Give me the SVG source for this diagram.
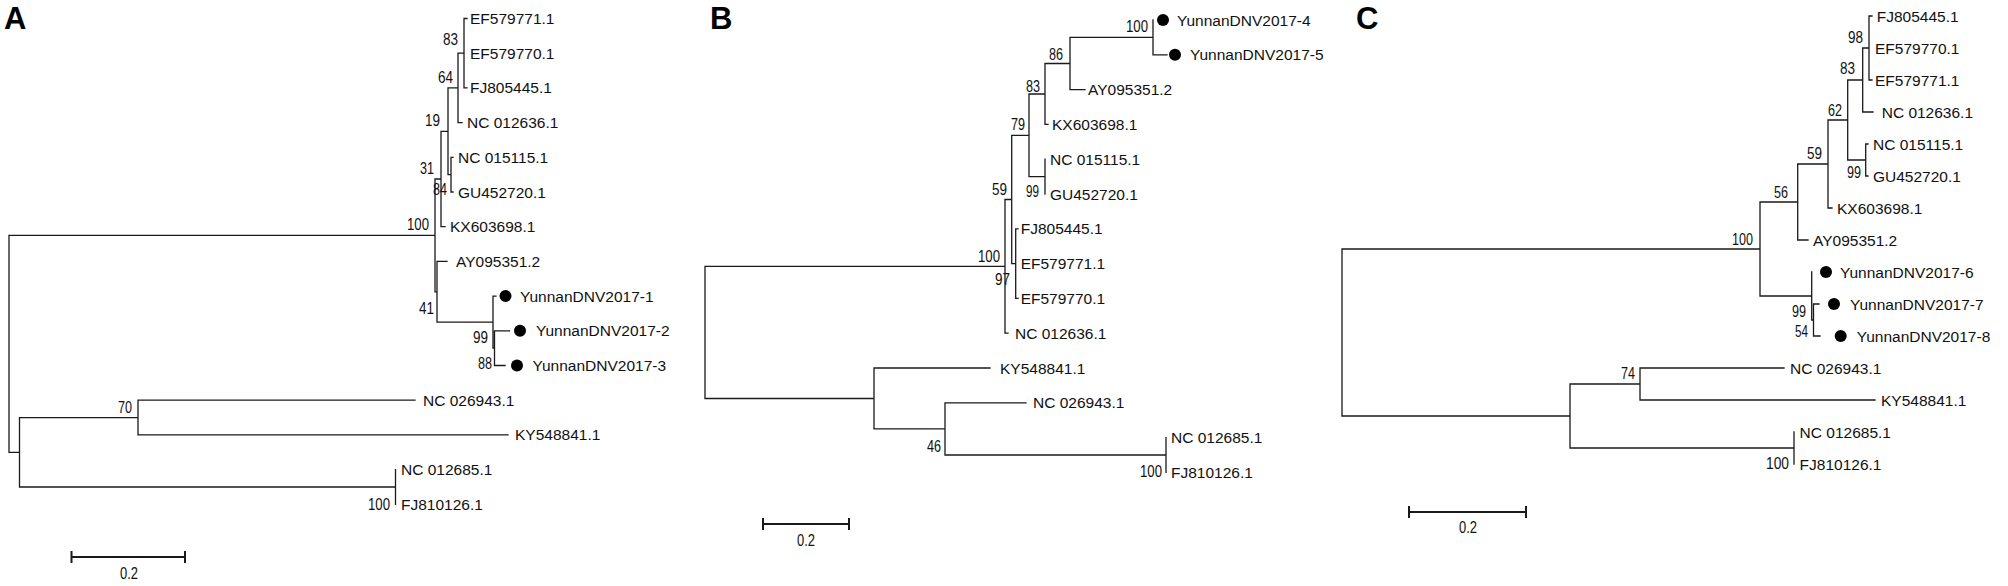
<svg xmlns="http://www.w3.org/2000/svg" width="2008" height="586" viewBox="0 0 2008 586">
<style>
.e{fill:none;stroke:#1a1a1a;stroke-width:1.3;stroke-linecap:square}
.sb{fill:none;stroke:#1a1a1a;stroke-width:2}
.t{font-family:"Liberation Sans",Arial,sans-serif;font-size:15.5px;fill:#111}
.b{font-family:"Liberation Sans",Arial,sans-serif;font-size:16px;fill:#111;text-anchor:end}
.s{font-family:"Liberation Sans",Arial,sans-serif;font-size:16px;fill:#111;text-anchor:middle}
.p{font-family:"Liberation Sans",Arial,sans-serif;font-size:31px;font-weight:bold;fill:#000}
.d{fill:#000}
</style>
<rect width="2008" height="586" fill="#fff"/>

<!-- ================= PANEL A ================= -->
<g id="panelA">
<text class="p" x="4" y="29">A</text>
<g id="A-connectors">
<path class="e" d="M9,235.4V452.3M9,235.4H435M9,452.3H19.5
M19.5,417.6V487M19.5,417.6H138M138,400.2V434.9M138,400.2H415M138,434.9H508
M19.5,487H395.5M395.5,469.6V504.3
M435,179V291.8M435,179H441M441,131.3V226.7M441,226.7H445M441,131.3H448
M448,87.9V174.6M448,87.9H458M448,174.6H451M451,157.3V192M451,157.3H453M451,192H453
M458,53.2V122.6M458,53.2H464M458,122.6H462M464,18.5V87.9M464,18.5H467M464,87.9H467
M435,291.8H437M437,261.4V322.1M437,261.4H447M437,322.1H493
M493,296.1V348.2M493,296.1H496M493,348.2H494.5M494.5,330.8V365.5M494.5,330.8H509.5M494.5,365.5H505"/>
</g>
<g id="A-EF579771"><text class="t" x="470" y="24">EF579771.1</text></g>
<g id="A-EF579770"><text class="t" x="470" y="58.7">EF579770.1</text></g>
<g id="A-FJ805445"><text class="t" x="470" y="93.4">FJ805445.1</text></g>
<g id="A-NC012636"><text class="t" x="467" y="128.1">NC 012636.1</text></g>
<g id="A-NC015115"><text class="t" x="458" y="162.8">NC 015115.1</text></g>
<g id="A-GU452720"><text class="t" x="458" y="197.5">GU452720.1</text></g>
<g id="A-KX603698"><text class="t" x="450" y="232.2">KX603698.1</text></g>
<g id="A-AY095351"><text class="t" x="456" y="266.9">AY095351.2</text></g>
<g id="A-Y1"><circle class="d" cx="505.5" cy="296.1" r="6"/><text class="t" x="520" y="301.6">YunnanDNV2017-1</text></g>
<g id="A-Y2"><circle class="d" cx="520" cy="330.8" r="6"/><text class="t" x="536" y="336.3">YunnanDNV2017-2</text></g>
<g id="A-Y3"><circle class="d" cx="517" cy="365.5" r="6"/><text class="t" x="532.5" y="371">YunnanDNV2017-3</text></g>
<g id="A-NC026943"><text class="t" x="423" y="405.7">NC 026943.1</text></g>
<g id="A-KY548841"><text class="t" x="515" y="440.4">KY548841.1</text></g>
<g id="A-NC012685"><text class="t" x="401" y="475.1">NC 012685.1</text></g>
<g id="A-FJ810126"><text class="t" x="401" y="509.8">FJ810126.1</text></g>
<g id="A-bootstrap">
<text class="b" x="458" y="45" textLength="15" lengthAdjust="spacingAndGlyphs">83</text>
<text class="b" x="453" y="83" textLength="15" lengthAdjust="spacingAndGlyphs">64</text>
<text class="b" x="440" y="126" textLength="15" lengthAdjust="spacingAndGlyphs">19</text>
<text class="b" x="434" y="174" textLength="14" lengthAdjust="spacingAndGlyphs">31</text>
<text class="b" x="447" y="195" textLength="14" lengthAdjust="spacingAndGlyphs">84</text>
<text class="b" x="429" y="230" textLength="22" lengthAdjust="spacingAndGlyphs">100</text>
<text class="b" x="434" y="314" textLength="15" lengthAdjust="spacingAndGlyphs">41</text>
<text class="b" x="488" y="343" textLength="15" lengthAdjust="spacingAndGlyphs">99</text>
<text class="b" x="492" y="369" textLength="14" lengthAdjust="spacingAndGlyphs">88</text>
<text class="b" x="132" y="413" textLength="14" lengthAdjust="spacingAndGlyphs">70</text>
<text class="b" x="390" y="510" textLength="22" lengthAdjust="spacingAndGlyphs">100</text>
</g>
<g id="A-scale">
<path class="sb" d="M71.5,557H185M71.5,551V563M185,551V563"/>
<text class="s" x="129" y="579" textLength="18" lengthAdjust="spacingAndGlyphs">0.2</text>
</g>
</g>

<!-- ================= PANEL B ================= -->
<g id="panelB">
<text class="p" x="710" y="29">B</text>
<g id="B-connectors">
<path class="e" d="M705,266.3V398.5M705,266.3H1005M705,398.5H874
M874,368V428.9M874,368H990M874,428.9H945M945,402.8V455M945,402.8H1026M945,455H1166M1166,437.6V472.4
M1005,199.5V333.2M1005,333.2H1008M1005,199.5H1011.7M1011.7,135.3V263.6M1011.7,263.6H1015.7
M1015.7,228.8V298.4M1015.7,228.8H1018M1015.7,298.4H1018
M1011.7,135.3H1029M1029,94V176.6M1029,176.6H1045M1045,159.2V194
M1029,94H1045M1045,63.5V124.4M1045,124.4H1048M1045,63.5H1070M1070,37.4V89.6M1070,89.6H1085
M1070,37.4H1153M1153,20V54.8M1153,54.8H1167"/>
</g>
<g id="B-Y4"><circle class="d" cx="1163" cy="20" r="6"/><text class="t" x="1177" y="25.5">YunnanDNV2017-4</text></g>
<g id="B-Y5"><circle class="d" cx="1175" cy="54.8" r="6"/><text class="t" x="1190" y="60.3">YunnanDNV2017-5</text></g>
<g id="B-AY095351"><text class="t" x="1088" y="95.1">AY095351.2</text></g>
<g id="B-KX603698"><text class="t" x="1052" y="129.9">KX603698.1</text></g>
<g id="B-NC015115"><text class="t" x="1050" y="164.7">NC 015115.1</text></g>
<g id="B-GU452720"><text class="t" x="1050" y="199.5">GU452720.1</text></g>
<g id="B-FJ805445"><text class="t" x="1020.7" y="234.3">FJ805445.1</text></g>
<g id="B-EF579771"><text class="t" x="1020.7" y="269.1">EF579771.1</text></g>
<g id="B-EF579770"><text class="t" x="1020.7" y="303.9">EF579770.1</text></g>
<g id="B-NC012636"><text class="t" x="1015" y="338.7">NC 012636.1</text></g>
<g id="B-KY548841"><text class="t" x="1000" y="373.5">KY548841.1</text></g>
<g id="B-NC026943"><text class="t" x="1033" y="408.3">NC 026943.1</text></g>
<g id="B-NC012685"><text class="t" x="1171" y="443.1">NC 012685.1</text></g>
<g id="B-FJ810126"><text class="t" x="1171" y="477.9">FJ810126.1</text></g>
<g id="B-bootstrap">
<text class="b" x="1148" y="32" textLength="22" lengthAdjust="spacingAndGlyphs">100</text>
<text class="b" x="1063" y="60" textLength="14" lengthAdjust="spacingAndGlyphs">86</text>
<text class="b" x="1040" y="92" textLength="14" lengthAdjust="spacingAndGlyphs">83</text>
<text class="b" x="1025" y="130" textLength="14" lengthAdjust="spacingAndGlyphs">79</text>
<text class="b" x="1007" y="195" textLength="15" lengthAdjust="spacingAndGlyphs">59</text>
<text class="b" x="1039" y="197" textLength="13" lengthAdjust="spacingAndGlyphs">99</text>
<text class="b" x="1000" y="262" textLength="22" lengthAdjust="spacingAndGlyphs">100</text>
<text class="b" x="1010" y="285" textLength="15" lengthAdjust="spacingAndGlyphs">97</text>
<text class="b" x="941" y="452" textLength="14" lengthAdjust="spacingAndGlyphs">46</text>
<text class="b" x="1162" y="477" textLength="22" lengthAdjust="spacingAndGlyphs">100</text>
</g>
<g id="B-scale">
<path class="sb" d="M763,524H849M763,518V530M849,518V530"/>
<text class="s" x="806" y="546" textLength="18" lengthAdjust="spacingAndGlyphs">0.2</text>
</g>
</g>

<!-- ================= PANEL C ================= -->
<g id="panelC">
<text class="p" x="1356" y="29">C</text>
<g id="C-connectors">
<path class="e" d="M1342,249V416M1342,249H1760M1342,416H1570
M1570,384V448M1570,384H1640M1640,368V400M1640,368H1784M1640,400H1875M1570,448H1794M1794,432V464
M1760,202V296M1760,202H1797.7M1797.7,164V240M1797.7,240H1808M1797.7,164H1828M1828,120V208M1828,208H1832
M1828,120H1847.7M1847.7,80V160M1847.7,160H1865.7M1865.7,144V176M1865.7,144H1868M1865.7,176H1868
M1847.7,80H1862.7M1862.7,48V112M1862.7,112H1873M1862.7,48H1869M1869,16V80M1869,16H1872M1869,80H1872
M1760,296H1811.7M1811.7,272V320M1811.7,320H1813.5M1813.5,304V336M1813.5,304H1819M1813.5,336H1820"/>
</g>
<g id="C-FJ805445"><text class="t" x="1876.7" y="21.5">FJ805445.1</text></g>
<g id="C-EF579770"><text class="t" x="1875" y="53.5">EF579770.1</text></g>
<g id="C-EF579771"><text class="t" x="1875" y="85.5">EF579771.1</text></g>
<g id="C-NC012636"><text class="t" x="1881.7" y="117.5">NC 012636.1</text></g>
<g id="C-NC015115"><text class="t" x="1873" y="149.5">NC 015115.1</text></g>
<g id="C-GU452720"><text class="t" x="1873" y="181.5">GU452720.1</text></g>
<g id="C-KX603698"><text class="t" x="1837" y="213.5">KX603698.1</text></g>
<g id="C-AY095351"><text class="t" x="1813" y="245.5">AY095351.2</text></g>
<g id="C-Y6"><circle class="d" cx="1826" cy="272" r="6"/><text class="t" x="1840" y="277.5">YunnanDNV2017-6</text></g>
<g id="C-Y7"><circle class="d" cx="1834" cy="304" r="6"/><text class="t" x="1850" y="309.5">YunnanDNV2017-7</text></g>
<g id="C-Y8"><circle class="d" cx="1840.7" cy="336" r="6"/><text class="t" x="1856.7" y="341.5">YunnanDNV2017-8</text></g>
<g id="C-NC026943"><text class="t" x="1790" y="373.5">NC 026943.1</text></g>
<g id="C-KY548841"><text class="t" x="1881" y="405.5">KY548841.1</text></g>
<g id="C-NC012685"><text class="t" x="1799.6" y="437.5">NC 012685.1</text></g>
<g id="C-FJ810126"><text class="t" x="1799.6" y="469.5">FJ810126.1</text></g>
<g id="C-bootstrap">
<text class="b" x="1863" y="43" textLength="15" lengthAdjust="spacingAndGlyphs">98</text>
<text class="b" x="1855" y="74" textLength="15" lengthAdjust="spacingAndGlyphs">83</text>
<text class="b" x="1842" y="116" textLength="14" lengthAdjust="spacingAndGlyphs">62</text>
<text class="b" x="1861" y="178" textLength="14" lengthAdjust="spacingAndGlyphs">99</text>
<text class="b" x="1822" y="159" textLength="15" lengthAdjust="spacingAndGlyphs">59</text>
<text class="b" x="1788" y="198" textLength="14" lengthAdjust="spacingAndGlyphs">56</text>
<text class="b" x="1753" y="245" textLength="21" lengthAdjust="spacingAndGlyphs">100</text>
<text class="b" x="1806" y="317" textLength="14" lengthAdjust="spacingAndGlyphs">99</text>
<text class="b" x="1808" y="337" textLength="13" lengthAdjust="spacingAndGlyphs">54</text>
<text class="b" x="1635" y="379" textLength="14" lengthAdjust="spacingAndGlyphs">74</text>
<text class="b" x="1789" y="469" textLength="23" lengthAdjust="spacingAndGlyphs">100</text>
</g>
<g id="C-scale">
<path class="sb" d="M1409,512H1526M1409,506V518M1526,506V518"/>
<text class="s" x="1468" y="533" textLength="18" lengthAdjust="spacingAndGlyphs">0.2</text>
</g>
</g>
</svg>
